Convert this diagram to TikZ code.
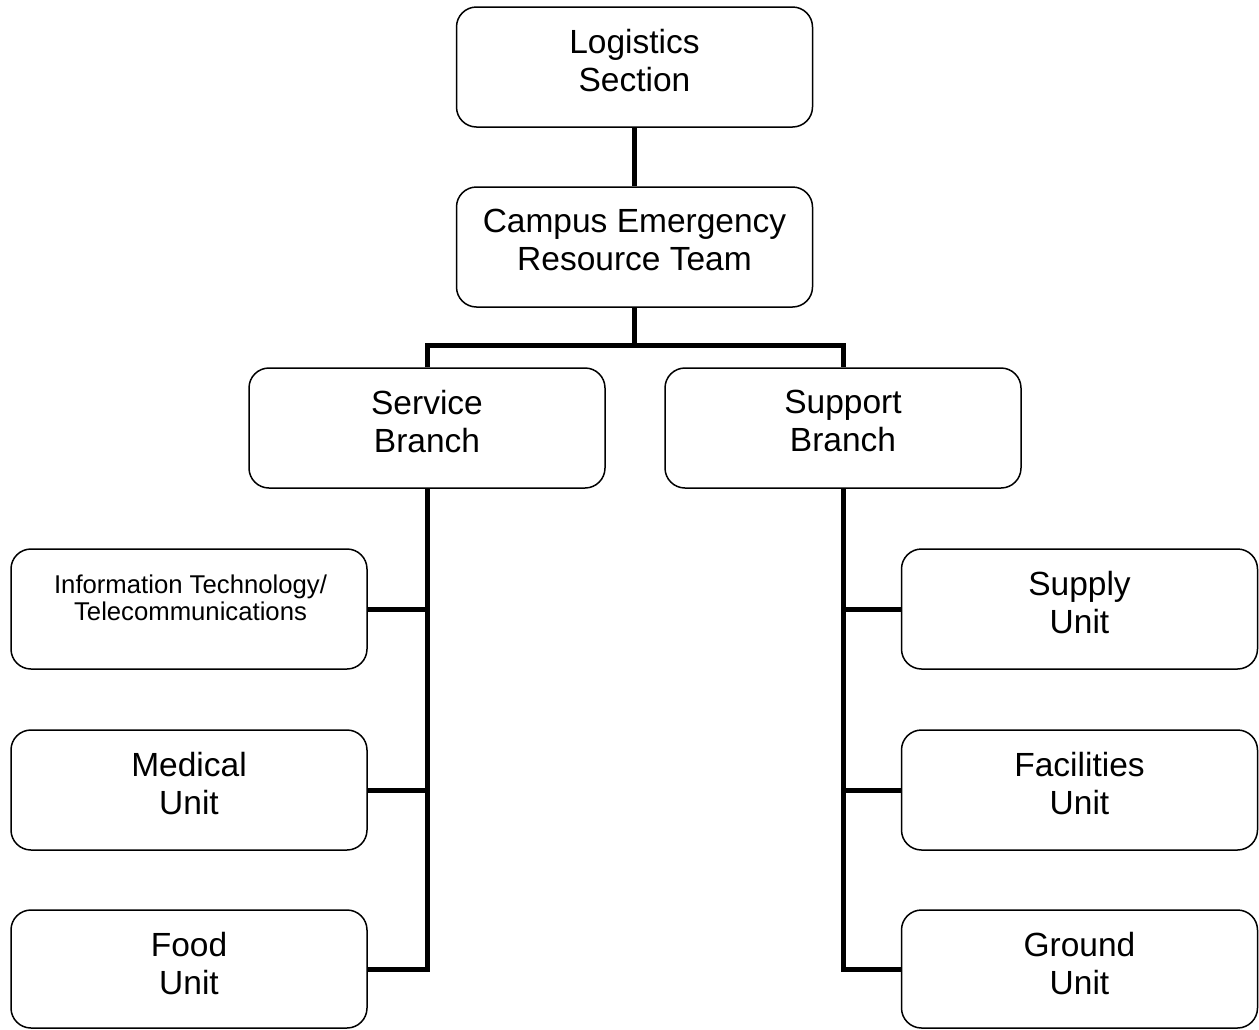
\documentclass[tikz,border=0pt]{standalone}
\usepackage{fontspec}
\setmainfont{Liberation Sans}
\begin{document}
\begin{tikzpicture}[x=1pt,y=-1pt,
  box/.style={draw, line width=1.5pt, rounded corners=20pt,
    minimum width=356pt, minimum height=120pt, inner sep=0pt, fill=white},
  lbl/.style={anchor=north, align=center, inner sep=0pt,
    font=\fontsize{33.5}{38}\selectfont, execute at begin node=\strut},
  lblsmall/.style={lbl, font=\fontsize{25.7}{27.5}\selectfont},
  link/.style={line width=5pt, line join=miter}]
\useasboundingbox (0,0) rectangle (1259,1029);

% boxes
\node[box] (log)  at (634.5,67)  {};
\node[box] (cert) at (634.5,247) {};
\node[box] (srv)  at (427,428)   {};
\node[box] (sup)  at (843,428)   {};
\node[box] (it)   at (189,609)   {};
\node[box] (med)  at (189,790)   {};
\node[box, minimum height=118pt] (food) at (189,969) {};
\node[box] (sply) at (1079.5,609) {};
\node[box] (fac)  at (1079.5,790) {};
\node[box, minimum height=118pt] (gnd) at (1079.5,969) {};

% labels
\node[lbl] (logt)  at (634.5,29.4)  {Logistics\\Section};
\node[lbl] (certt) at (634.5,209.4) {Campus Emergency\\Resource Team};
\node[lbl] (srvt)  at (427,390.4)   {Service\\Branch};
\node[lbl] (supt)  at (843,390.4)   {Support\\Branch};
\node[lblsmall] (itt) at (190.5,574.5) {Information Technology/\\Telecommunications};
\node[lbl] (medt)  at (189,752.4)   {Medical\\Unit};
\node[lbl] (foodt) at (189,932.4)   {Food\\Unit};
\node[lbl] (splyt) at (1079.5,571.4) {Supply\\Unit};
\node[lbl] (fact)  at (1079.5,752.4) {Facilities\\Unit};
\node[lbl] (gndt)  at (1079.5,932.4) {Ground\\Unit};

% connectors
\coordinate (bus) at (634.5,345);
\draw[link] (log.south) -- (cert.north);
\draw[link] (cert.south) -- (bus);
\draw[link] (srv.north) |- (bus) -| (sup.north);
\draw[link] (srv.south) |- (food.east);
\draw[link] (it.east) -- (it.east -| srv.south);
\draw[link] (med.east) -- (med.east -| srv.south);
\draw[link] (sup.south) |- (gnd.west);
\draw[link] (sply.west) -- (sply.west -| sup.south);
\draw[link] (fac.west) -- (fac.west -| sup.south);
\end{tikzpicture}
\end{document}
